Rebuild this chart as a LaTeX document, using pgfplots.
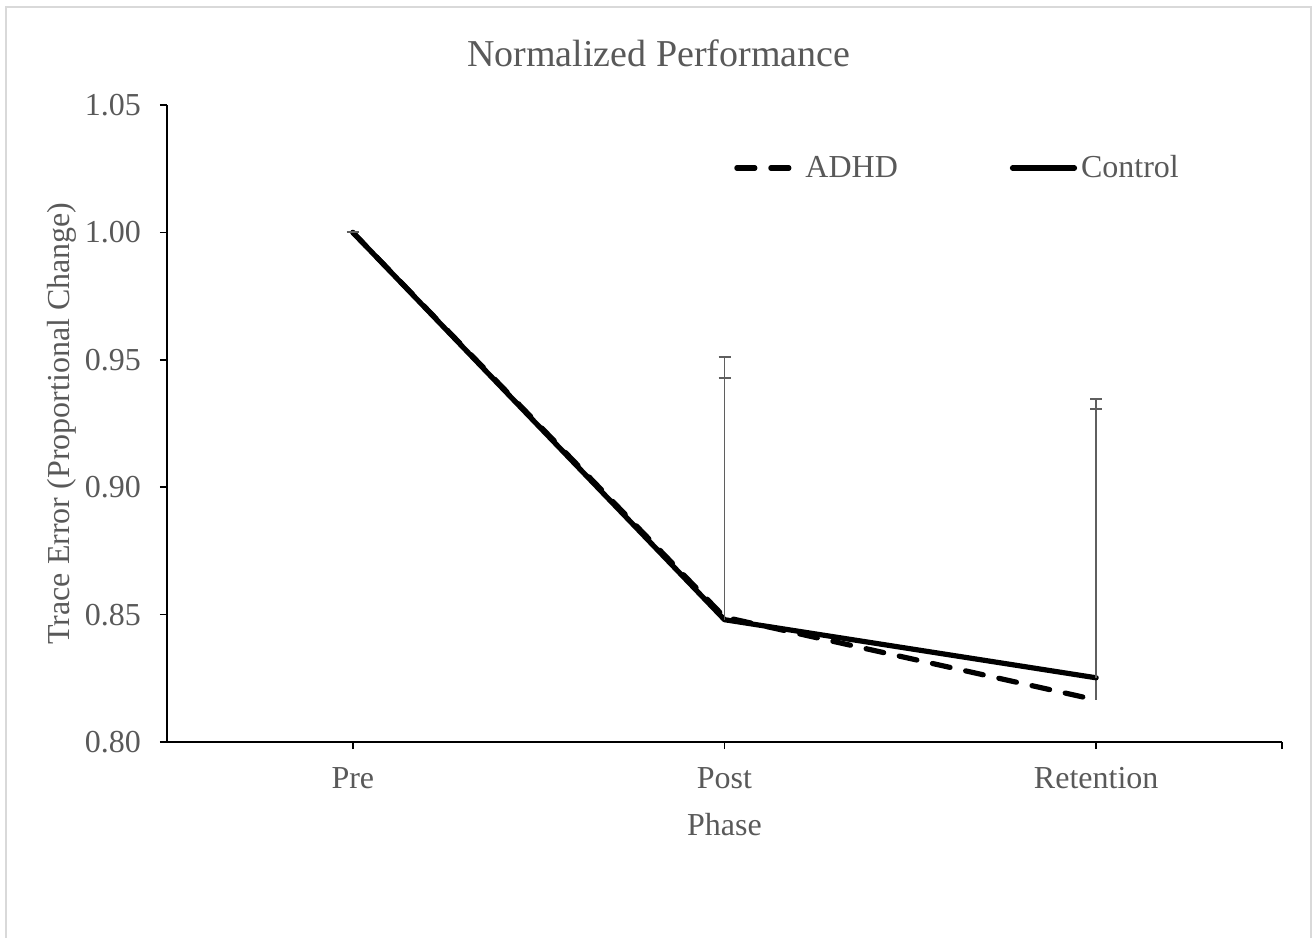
\documentclass[border=0pt]{standalone}
\usepackage{pgfplots}
\pgfplotsset{compat=1.18}
\usepackage{fontspec}
\setmainfont{Liberation Serif}
\definecolor{txt}{RGB}{89,89,89}
\definecolor{ebar}{RGB}{95,95,95}
\definecolor{frame}{RGB}{217,217,217}
\begin{document}
\begin{tikzpicture}
\useasboundingbox (-83.5pt,-97.5pt) rectangle (574pt,371pt);
\draw[frame, line width=1pt] (-80.5pt,-100pt) -- (-80.5pt,367.5pt) -- (572pt,367.5pt) -- (572pt,-100pt);
\begin{axis}[
  at={(0pt,0pt)}, anchor=south west,
  scale only axis,
  width=557.5pt, height=318.5pt,
  xmin=-0.5, xmax=2.5, ymin=0.8, ymax=1.05,
  clip=false,
  axis x line*=bottom, axis y line*=left,
  axis line style={black, line width=0.75pt, -},
  xtick={0,1,2}, xticklabels={Pre,Post,Retention},
  extra x ticks={2.5}, extra x tick labels={},
  ytick={0.80,0.85,0.90,0.95,1.00,1.05},
  /pgf/number format/fixed, /pgf/number format/fixed zerofill, /pgf/number format/precision=2,
  /pgf/number format/assume math mode=true,
  tick align=outside,
  major tick length=3.5pt,
  tick style={black, line width=0.75pt},
  ticklabel style={font=\fontsize{16}{19}\selectfont, text=txt},
  xticklabel style={yshift=-5.5pt},
  yticklabel style={xshift=-6pt},
  title={Normalized Performance},
  every axis title/.style={at={(rel axis cs:0.441,1)}, anchor=center, yshift=26pt, font=\fontsize{19}{23}\selectfont, text=txt},
  xlabel={Phase},
  every axis x label/.style={at={(axis description cs:0.5,0)}, anchor=center, yshift=-41.5pt, font=\fontsize{16}{19}\selectfont, text=txt},
  ylabel={Trace Error (Proportional Change)},
  every axis y label/.style={at={(axis description cs:0,0.5)}, anchor=center, rotate=90, yshift=52.5pt, font=\fontsize{16}{19}\selectfont, text=txt},
  legend columns=2,
  legend style={at={(rel axis cs:0.503,0.901)}, anchor=west, draw=none, fill=none, font=\fontsize{16}{19}\selectfont, text=txt,
    /tikz/every even column/.append style={column sep=54pt}},
  legend image code/.code={\draw[#1] (0pt,0pt) -- (31pt,0pt);},
]
\addplot[black, line width=2.6pt, line cap=round, dash pattern=on 9pt off 8pt,
  error bars/.cd, y dir=plus, y explicit,
  error bar style={ebar, line width=0.9pt, solid, line cap=butt},
  error mark options={ebar, line width=0.9pt, solid, mark size=3pt, rotate=90}]
  coordinates {(0,1.000) +- (0,0) (1,0.849) +- (0,0.102) (2,0.8165) +- (0,0.118)};
\addlegendentry{ADHD}
\addplot[black, line width=2.6pt, line cap=round, line join=round,
  error bars/.cd, y dir=plus, y explicit,
  error bar style={ebar, line width=0.9pt, solid, line cap=butt},
  error mark options={ebar, line width=0.9pt, solid, mark size=3pt, rotate=90}]
  coordinates {(0,1.000) +- (0,0) (1,0.848) +- (0,0.095) (2,0.8252) +- (0,0.1054)};
\addlegendentry{Control}
\end{axis}
\end{tikzpicture}
\end{document}
